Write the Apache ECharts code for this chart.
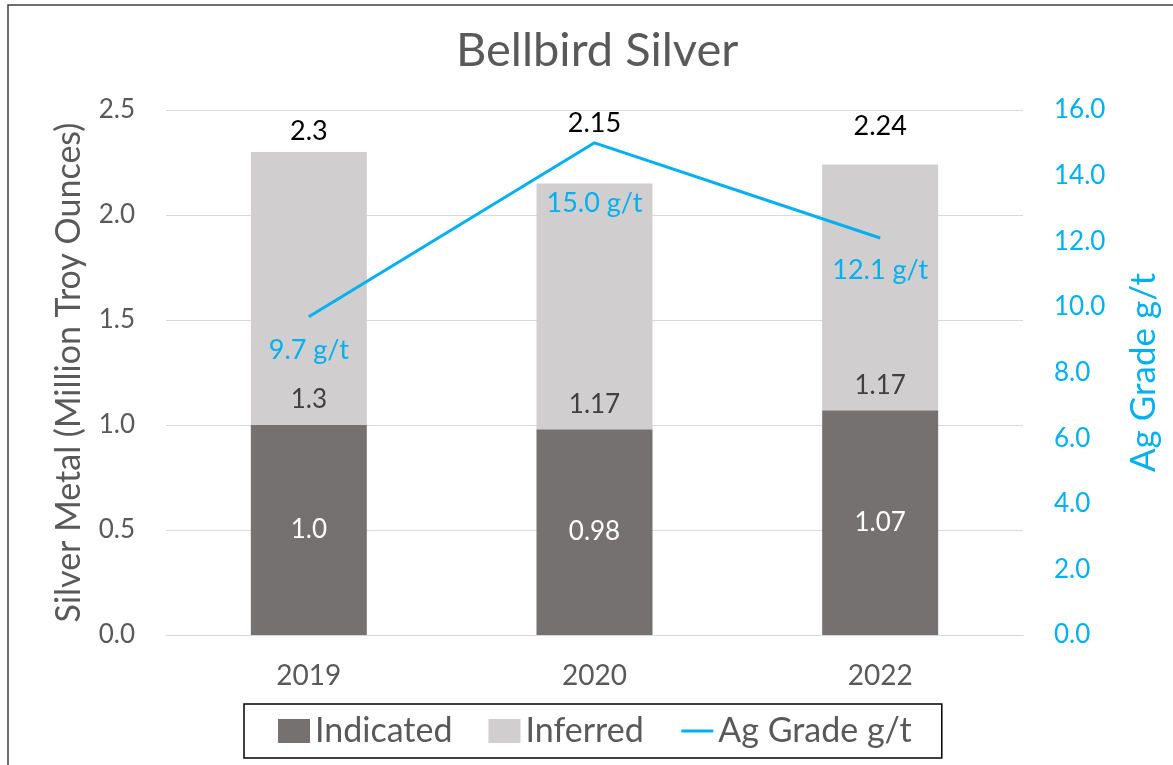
<!DOCTYPE html>
<html>
<head>
<meta charset="utf-8">
<title>Bellbird Silver</title>
<script src="https://cdn.jsdelivr.net/npm/echarts@6/dist/echarts.min.js"></script>
<style>
  html, body { margin: 0; padding: 0; background: #fff; }
  #main { width: 1173px; height: 765px; }
</style>
</head>
<body>
<div id="main"></div>
<script>
  // data
  var years = ['2019', '2020', '2022'];
  var indicated = [1.0, 0.98, 1.07];
  var inferred = [1.3, 1.17, 1.17];
  var totals = [2.3, 2.15, 2.24];
  var agGrade = [9.7, 15.0, 12.1];
  var indicatedLabels = ['1.0', '0.98', '1.07'];
  var inferredLabels = ['1.3', '1.17', '1.17'];
  var totalLabels = ['2.3', '2.15', '2.24'];
  var totalLabelGap = [7, 47, 25];  // totals are lifted above the line in the original
  var gradeLabelGap = [20, 47, 19]; // 2020 label sits lower in the original

  var FONT = 'Lato, "Open Sans", sans-serif';
  var GREY = '#595959';
  var BLUE = '#00B0F0';

  var chart = echarts.init(document.getElementById('main'));

  var option = {
    backgroundColor: '#fff',
    animation: false,
    textStyle: { fontFamily: FONT },
    graphic: [{
      type: 'rect',
      shape: { x: 8, y: 5, width: 1300, height: 900 },
      style: { fill: 'none', stroke: '#404040', lineWidth: 1.5 },
      silent: true
    }],
    title: {
      text: 'Bellbird Silver',
      left: 451,
      top: 22,
      textStyle: { fontFamily: FONT, fontSize: 47, fontWeight: 'normal', color: GREY }
    },
    grid: { left: 166, right: 150, top: 110, bottom: 130 },
    legend: {
      left: 244,
      top: 704,
      padding: [10, 30, 10, 34],
      borderColor: '#000',
      borderWidth: 1.5,
      itemGap: 36,
      itemWidth: 32,
      itemHeight: 24,
      textStyle: { fontFamily: FONT, fontSize: 34, color: GREY },
      data: [
        { name: 'Indicated', icon: 'rect' },
        { name: 'Inferred', icon: 'rect' },
        { name: 'Ag Grade g/t', itemStyle: { opacity: 0 }, lineStyle: { width: 3 } }
      ]
    },
    xAxis: {
      type: 'category',
      data: years,
      axisLine: { lineStyle: { color: '#D9D9D9', width: 1 } },
      axisTick: { show: false },
      axisLabel: { margin: 27, fontSize: 28, color: GREY, fontFamily: FONT }
    },
    yAxis: [{
      type: 'value',
      min: 0,
      max: 2.5,
      interval: 0.5,
      name: 'Silver Metal (Million Troy Ounces)',
      nameLocation: 'middle',
      nameGap: 80,
      nameTextStyle: { fontSize: 34, color: GREY, fontFamily: FONT },
      axisLine: { show: false },
      axisTick: { show: false },
      axisLabel: {
        margin: 31, fontSize: 26, color: GREY, fontFamily: FONT,
        formatter: function (v) { return v.toFixed(1); }
      },
      splitLine: { lineStyle: { color: '#D9D9D9', width: 1 } }
    }, {
      type: 'value',
      position: 'right',
      min: 0,
      max: 16,
      interval: 2,
      name: 'Ag Grade g/t',
      nameLocation: 'middle',
      nameGap: 103,
      nameTextStyle: { fontSize: 35, color: BLUE, fontFamily: FONT },
      axisLine: { show: false },
      axisTick: { show: false },
      axisLabel: {
        margin: 31, fontSize: 26, color: BLUE, fontFamily: FONT,
        formatter: function (v) { return v.toFixed(1); }
      },
      splitLine: { show: false }
    }],
    series: [{
      name: 'Indicated',
      type: 'bar',
      stack: 'metal',
      barWidth: 116,
      data: indicated,
      itemStyle: { color: '#767171' },
      label: {
        show: true,
        position: 'inside',
        fontSize: 26,
        color: '#fff',
        fontFamily: FONT,
        formatter: function (p) { return indicatedLabels[p.dataIndex]; }
      }
    }, {
      name: 'Inferred',
      type: 'bar',
      stack: 'metal',
      barWidth: 116,
      data: inferred,
      itemStyle: { color: '#D0CECE' },
      label: {
        show: true,
        position: 'insideBottom',
        distance: 12,
        fontSize: 26,
        color: '#404040',
        fontFamily: FONT,
        formatter: function (p) { return inferredLabels[p.dataIndex]; }
      }
    }, {
      name: 'Total',
      type: 'line',
      symbol: 'circle',
      symbolSize: 0,
      lineStyle: { opacity: 0 },
      silent: true,
      z: 7,
      data: totals.map(function (v, i) {
        return {
          value: v,
          label: { distance: totalLabelGap[i] }
        };
      }),
      label: {
        show: true,
        position: 'top',
        fontSize: 27,
        color: '#000',
        fontFamily: FONT,
        formatter: function (p) { return totalLabels[p.dataIndex]; }
      }
    }, {
      name: 'Ag Grade g/t',
      type: 'line',
      yAxisIndex: 1,
      symbol: 'circle',
      symbolSize: 0,
      z: 6,
      lineStyle: { color: BLUE, width: 3 },
      itemStyle: { color: BLUE },
      data: agGrade.map(function (v, i) {
        return {
          value: v,
          label: { distance: gradeLabelGap[i] }
        };
      }),
      label: {
        show: true,
        position: 'bottom',
        fontSize: 27,
        color: BLUE,
        fontFamily: FONT,
        formatter: function (p) { return p.value.toFixed(1) + ' g/t'; }
      }
    }]
  };

  chart.setOption(option);
</script>
</body>
</html>
